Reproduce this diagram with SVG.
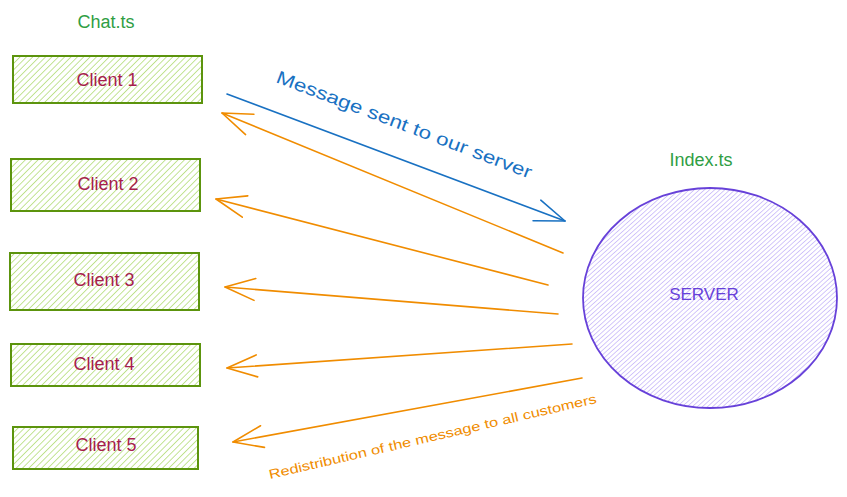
<svg xmlns="http://www.w3.org/2000/svg" width="847" height="497" viewBox="0 0 847 497">
<defs>
<pattern id="hatchGreen" patternUnits="userSpaceOnUse" width="4.5" height="4.5" patternTransform="rotate(45)">
<line x1="0" y1="0" x2="0" y2="4.5" stroke="#a3d65c" stroke-width="1.3"/>
</pattern>
<pattern id="hatchPurple" patternUnits="userSpaceOnUse" width="3.4" height="3.4" patternTransform="rotate(48)">
<line x1="0" y1="0" x2="0" y2="3.4" stroke="#b19cf6" stroke-width="1.1"/>
</pattern>
<marker id="headOrange" markerUnits="userSpaceOnUse" markerWidth="40" markerHeight="30" refX="0" refY="0" viewBox="-32 -15 36 30" orient="auto" overflow="visible">
<path d="M -30 -11 L 0 0 L -30 11" fill="none" stroke="#f08c00" stroke-width="1.6" stroke-linecap="round" stroke-linejoin="round"/>
</marker>
<marker id="headBlue" markerUnits="userSpaceOnUse" markerWidth="40" markerHeight="30" refX="0" refY="0" viewBox="-32 -15 36 30" orient="auto" overflow="visible">
<path d="M -30 -11 L 0 0 L -30 11" fill="none" stroke="#1971c2" stroke-width="1.6" stroke-linecap="round" stroke-linejoin="round"/>
</marker>
</defs>
<style>
.box{fill:url(#hatchGreen);stroke:#5c940d;stroke-width:2}
.cl{font-family:"Liberation Sans",Arial,sans-serif;font-size:18px;fill:#a61e4d;text-anchor:middle;dominant-baseline:central}
.file{font-family:"Liberation Sans",Arial,sans-serif;font-size:18px;fill:#2f9e44;text-anchor:middle;dominant-baseline:central}
.orange{fill:none;stroke:#f08c00;stroke-width:1.6;stroke-linecap:round;marker-end:url(#headOrange)}
.blue{fill:none;stroke:#1971c2;stroke-width:1.6;stroke-linecap:round;marker-end:url(#headBlue)}
</style>
<rect width="847" height="497" fill="#ffffff"/>

<g id="chat-label"><text class="file" x="106" y="22">Chat.ts</text></g>
<g id="index-label"><text class="file" x="701" y="160">Index.ts</text></g>

<g id="client1"><rect class="box" x="13" y="56" width="189" height="47"/><text class="cl" x="107" y="80">Client 1</text></g>
<g id="client2"><rect class="box" x="11" y="159" width="189" height="52"/><text class="cl" x="108" y="184">Client 2</text></g>
<g id="client3"><rect class="box" x="10" y="253" width="189" height="57"/><text class="cl" x="104" y="280">Client 3</text></g>
<g id="client4"><rect class="box" x="11" y="344" width="189" height="42"/><text class="cl" x="104" y="364">Client 4</text></g>
<g id="client5"><rect class="box" x="13" y="427" width="185" height="42"/><text class="cl" x="106" y="445">Client 5</text></g>

<g id="server">
<ellipse cx="710" cy="298" rx="127" ry="110" fill="url(#hatchPurple)" stroke="#6741d9" stroke-width="1.8"/>
<text x="704" y="294" font-family="Liberation Sans,Arial,sans-serif" font-size="17" fill="#6741d9" text-anchor="middle" dominant-baseline="central">SERVER</text>
</g>

<g id="connectors">
<path class="blue" d="M 227 94 L 565 221"/>
<path class="orange" d="M 563 253 L 222 113"/>
<path class="orange" d="M 548 285 L 216 199"/>
<path class="orange" d="M 558 314 L 225 287"/>
<path class="orange" d="M 572 344 L 227 368"/>
<path class="orange" d="M 582 378 L 233 442"/>
</g>

<g id="labels">
<text x="275" y="82" font-family="Liberation Sans,Arial,sans-serif" font-size="18" fill="#1971c2" transform="rotate(20.8 275 82)" textLength="272" lengthAdjust="spacingAndGlyphs">Message sent to our server</text>
<text x="270" y="479" font-family="Liberation Sans,Arial,sans-serif" font-size="13" fill="#f08c00" transform="rotate(-13.1 270 479)" textLength="336" lengthAdjust="spacingAndGlyphs">Redistribution of the message to all customers</text>
</g>
</svg>
